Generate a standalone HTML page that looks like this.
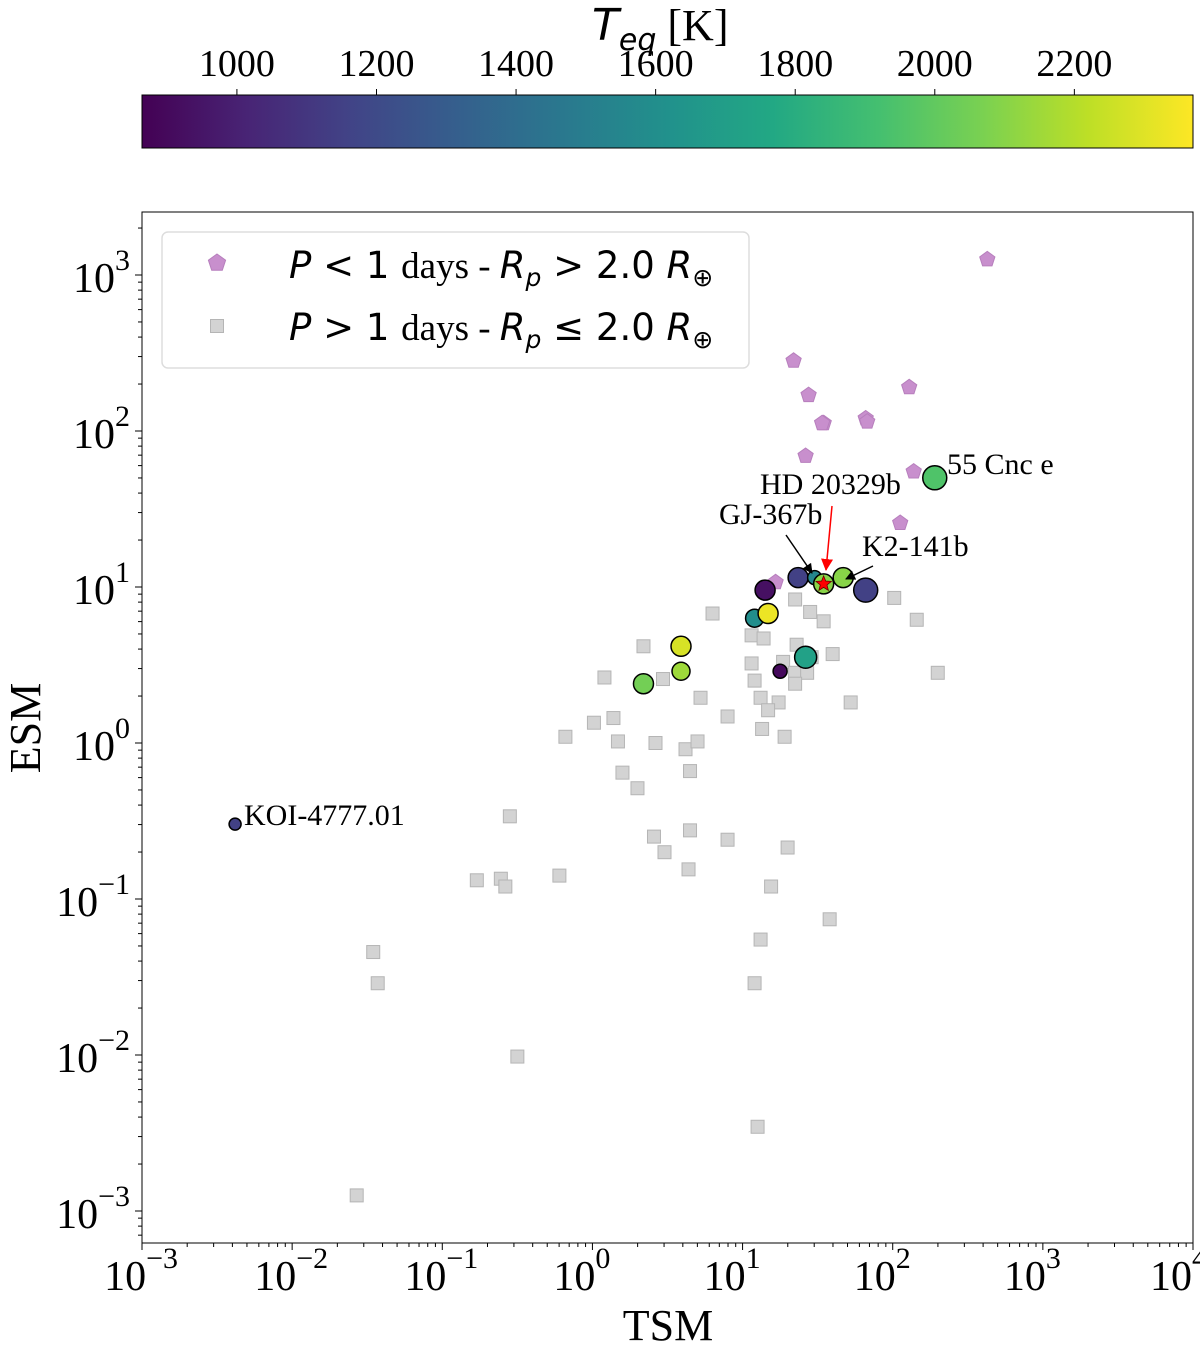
<!DOCTYPE html>
<html><head><meta charset="utf-8"><style>
body{margin:0;background:#fff;}
svg{display:block;font-family:"Liberation Serif",serif;}
</style></head><body>
<svg id="chart" width="1200" height="1347" viewBox="0 0 1200 1347" xmlns="http://www.w3.org/2000/svg">
<defs>
<linearGradient id="vir" x1="0" x2="1" y1="0" y2="0">
<stop offset="0" stop-color="#440154"/><stop offset="0.1" stop-color="#482475"/><stop offset="0.2" stop-color="#414487"/><stop offset="0.3" stop-color="#355f8d"/><stop offset="0.4" stop-color="#2a788e"/><stop offset="0.5" stop-color="#21918c"/><stop offset="0.6" stop-color="#22a884"/><stop offset="0.7" stop-color="#44bf70"/><stop offset="0.8" stop-color="#7ad151"/><stop offset="0.9" stop-color="#bddf26"/><stop offset="1" stop-color="#fde725"/>
</linearGradient>
<marker id="ahBlack" markerWidth="10" markerHeight="10" refX="9" refY="5" orient="auto" markerUnits="userSpaceOnUse"><path d="M0,0 L10,5 L0,10 z" fill="#000"/></marker>
<marker id="ahRed" markerWidth="12" markerHeight="12" refX="11" refY="6" orient="auto" markerUnits="userSpaceOnUse"><path d="M0,0 L12,6 L0,12 z" fill="#f00"/></marker>
</defs>
<g id="cbar"></g>
<g id="axes"></g>
<g id="marks"></g>
<g id="annot"></g>
<g id="legend"></g>
</svg>
<script>
// log10 data
const grayTSM=[0.80,1.35,2.01,2.16,2.30,1.72,1.45,1.54,1.06,1.14,1.36,1.60,1.46,1.06,1.27,1.08,1.35,1.43,1.35,1.12,1.24,1.17,0.90,1.13,1.28,0.34,0.47,0.72,0.08,0.14,0.01,-0.18,0.17,0.42,0.62,0.70,0.65,0.20,0.30,-0.55,0.41,0.48,0.65,0.90,1.30,0.64,-0.22,-0.77,-0.61,-0.58,1.19,1.58,1.12,-1.46,-1.43,1.08,-0.50,1.10,-1.57];
const grayESM=[0.83,0.92,0.93,0.79,0.45,0.26,0.84,0.78,0.69,0.67,0.63,0.57,0.55,0.51,0.52,0.40,0.45,0.45,0.38,0.29,0.26,0.21,0.17,0.09,0.04,0.62,0.41,0.29,0.42,0.16,0.13,0.04,0.01,0.00,-0.04,0.01,-0.18,-0.19,-0.29,-0.47,-0.60,-0.70,-0.56,-0.62,-0.67,-0.81,-0.85,-0.88,-0.87,-0.92,-0.92,-1.13,-1.26,-1.34,-1.54,-1.54,-2.01,-2.46,-2.90];
const pinkTSM=[2.63,1.34,1.44,1.54,1.82,1.83,2.11,1.42,2.14,2.05,1.22,1.53];
const pinkESM=[3.10,2.45,2.23,2.05,2.08,2.06,2.28,1.84,1.74,1.41,1.03,2.05];
const colTSM=[-2.38,2.28,1.37,1.48,1.67,1.82,1.15,1.08,1.17,0.59,0.59,0.34,1.25,1.42,1.54];
const colESM=[-0.52,1.70,1.06,1.06,1.06,0.98,0.98,0.80,0.83,0.62,0.46,0.38,0.46,0.55,1.02];
const colTeq=[1150,1950,1150,1550,2100,1150,930,1600,2330,2280,2150,2050,900,1720,2100];
const colSize=[6,12,10,7,10,12,10,9,10,10,9,10,7,11,10];
const xTickExp=[-3,-2,-1,0,1,2,3,4];
const yTickExp=[-3,-2,-1,0,1,2,3];
const cbTicks=[1000,1200,1400,1600,1800,2000,2200];

const NS='http://www.w3.org/2000/svg';
const X0=142,X1=1193,Y0=212,Y1=1243;
const xs=v=>X0+(v+3)*(X1-X0)/7;
const ys=v=>275-(v-3)*156;
const cmin=864,cmax=2370;
const cs=t=>X0+(t-cmin)/(cmax-cmin)*(X1-X0);
const vir=['#440154','#482475','#414487','#355f8d','#2a788e','#21918c','#22a884','#44bf70','#7ad151','#bddf26','#fde725'];
function hex(h){return [1,3,5].map(i=>parseInt(h.substr(i,2),16));}
function cmap(t){let f=Math.max(0,Math.min(1,(t-cmin)/(cmax-cmin)))*10;let i=Math.min(9,Math.floor(f)),r=f-i;const a=hex(vir[i]),b=hex(vir[i+1]);return 'rgb('+a.map((v,k)=>Math.round(v+(b[k]-v)*r)).join(',')+')';}
function el(tag,attrs,parent,text){const e=document.createElementNS(NS,tag);for(const k in attrs)e.setAttribute(k,attrs[k]);if(text!==undefined)e.textContent=text;parent.appendChild(e);return e;}

// colorbar
const cb=document.getElementById('cbar');
let r=el('rect',{x:X0,y:95,width:X1-X0,height:53,fill:'url(#vir)',stroke:'#000','stroke-width':1},cb);

cbTicks.forEach(t=>{
  el('line',{x1:cs(t),x2:cs(t),y1:95,y2:89,stroke:'#000','stroke-width':1},cb);
  const tx=el('text',{x:cs(t),y:76,'font-size':38,'text-anchor':'middle'},cb,String(t));
  
});
let ct=el('text',{x:592,y:40,'font-size':44},cb);

ct.innerHTML='<tspan font-family="DejaVu Sans" font-style="italic">T</tspan><tspan font-family="DejaVu Sans" font-style="italic" font-size="30" dy="10">eq</tspan><tspan dy="-10"> [K]</tspan>';

// axes
const ax=document.getElementById('axes');
el('rect',{x:X0,y:Y0,width:X1-X0,height:Y1-Y0,fill:'none',stroke:'#000','stroke-width':1},ax);
xTickExp.forEach(e=>{
  const x=xs(e);
  el('line',{x1:x,x2:x,y1:Y1,y2:Y1+7,stroke:'#000'},ax);
  if(e<4)for(let m=2;m<10;m++){const xm=xs(e+Math.log10(m));el('line',{x1:xm,x2:xm,y1:Y1,y2:Y1+4,stroke:'#000'},ax);}
  const t=el('text',{x:x+(e<0?36:18)+(e===4?-4:0),y:1290,'font-size':42,'text-anchor':'end'},ax);
  
  t.innerHTML='10<tspan font-size="30" dy="-22">'+(e<0?'\u2212':'')+Math.abs(e)+'</tspan>';
});
yTickExp.forEach(e=>{
  const y=ys(e);
  el('line',{x1:X0,x2:X0-7,y1:y,y2:y,stroke:'#000'},ax);
  for(let m=2;m<10;m++){const ym=ys(e+Math.log10(m));if(ym>Y0&&ym<Y1)el('line',{x1:X0,x2:X0-4,y1:ym,y2:ym,stroke:'#000'},ax);}
  if(e===-3)for(let m=5;m<10;m++){const yy=ys(-4+Math.log10(m));if(yy<Y1)el('line',{x1:X0,x2:X0-4,y1:yy,y2:yy,stroke:'#000'},ax);}
  const t=el('text',{x:130,y:y+17,'font-size':42,'text-anchor':'end'},ax);
  
  t.innerHTML='10<tspan font-size="30" dy="-22">'+(e<0?'\u2212':'')+Math.abs(e)+'</tspan>';
});
let xl=el('text',{x:668,y:1340,'font-size':44,'text-anchor':'middle'},ax,'TSM');

let yl=el('text',{x:0,y:0,'font-size':44,'text-anchor':'middle',transform:'translate(40,728) rotate(-90)'},ax,'ESM');


// marks
const mk=document.getElementById('marks');
function pent(cx,cy,R){let p=[];for(let i=0;i<5;i++){const a=-Math.PI/2+i*2*Math.PI/5;p.push((cx+R*Math.cos(a)).toFixed(1)+','+(cy+R*Math.sin(a)).toFixed(1));}return p.join(' ');}
grayTSM.forEach((v,i)=>{
  const s=el('rect',{x:xs(v)-6.5,y:ys(grayESM[i])-6.5,width:13,height:13,fill:'#d3d3d3',stroke:'#b5b5b5','stroke-width':1},mk);
  
});
pinkTSM.forEach((v,i)=>{
  const p=el('polygon',{points:pent(xs(v),ys(pinkESM[i]),8),fill:'#c88fcd',stroke:'#b77fbd','stroke-width':1},mk);
  
});
colTSM.forEach((v,i)=>{
  const c=el('circle',{cx:xs(v),cy:ys(colESM[i]),r:colSize[i],fill:cmap(colTeq[i]),stroke:'#000','stroke-width':1.5},mk);
  
});
(function(){const cx=xs(colTSM[14]),cy=ys(colESM[14]);let p=[];for(let i=0;i<10;i++){const a=-Math.PI/2+i*Math.PI/5,R=i%2?3.5:8;p.push((cx+R*Math.cos(a)).toFixed(1)+','+(cy+R*Math.sin(a)).toFixed(1));}
const s=el('polygon',{points:p.join(' '),fill:'#f00',stroke:'#600','stroke-width':0.8},mk);
})();

// annotations
const an=document.getElementById('annot');
function lab(x,y,t,n){const e=el('text',{x:x,y:y,'font-size':30},an,t);}
lab(244,825,'KOI-4777.01','label-koi-4777');
lab(947,474,'55 Cnc e','label-55-cnc-e');
lab(760,494,'HD 20329b','label-hd-20329b');
lab(719,524,'GJ-367b','label-gj-367b');
lab(862,556,'K2-141b','label-k2-141b');
let a1=el('line',{x1:832,y1:506,x2:826,y2:570,stroke:'#f00','stroke-width':1.5,'marker-end':'url(#ahRed)'},an);

let a2=el('line',{x1:786,y1:535,x2:812,y2:573,stroke:'#000','stroke-width':1.5,'marker-end':'url(#ahBlack)'},an);

let a3=el('line',{x1:873,y1:566,x2:846,y2:579,stroke:'#000','stroke-width':1.5,'marker-end':'url(#ahBlack)'},an);


// legend
const lg=document.getElementById('legend');
let box=el('rect',{x:162,y:232,width:587,height:136,rx:6,fill:'#fff','fill-opacity':0.8,stroke:'#ddd','stroke-width':1.5},lg);

let lp=el('polygon',{points:pent(217,263,9),fill:'#c88fcd',stroke:'#b77fbd'},lg);

let ls=el('rect',{x:210.5,y:319.5,width:13,height:13,fill:'#d3d3d3',stroke:'#b5b5b5'},lg);

const I='font-family="DejaVu Sans" font-style="italic"', D='font-family="DejaVu Sans"';
let t1=el('text',{x:289,y:278,'font-size':37},lg);

t1.innerHTML='<tspan '+I+'>P</tspan><tspan '+D+'> &lt; 1 </tspan>days - <tspan '+I+'>R</tspan><tspan '+I+' font-size="25" dy="8">p</tspan><tspan '+D+' dy="-8"> &gt; 2.0 </tspan><tspan '+I+'>R</tspan><tspan '+D+' font-size="25" dy="8">⊕</tspan>';
let t2=el('text',{x:289,y:340,'font-size':37},lg);

t2.innerHTML='<tspan '+I+'>P</tspan><tspan '+D+'> &gt; 1 </tspan>days - <tspan '+I+'>R</tspan><tspan '+I+' font-size="25" dy="8">p</tspan><tspan '+D+' dy="-8"> ≤ 2.0 </tspan><tspan '+I+'>R</tspan><tspan '+D+' font-size="25" dy="8">⊕</tspan>';
</script>
</body></html>
